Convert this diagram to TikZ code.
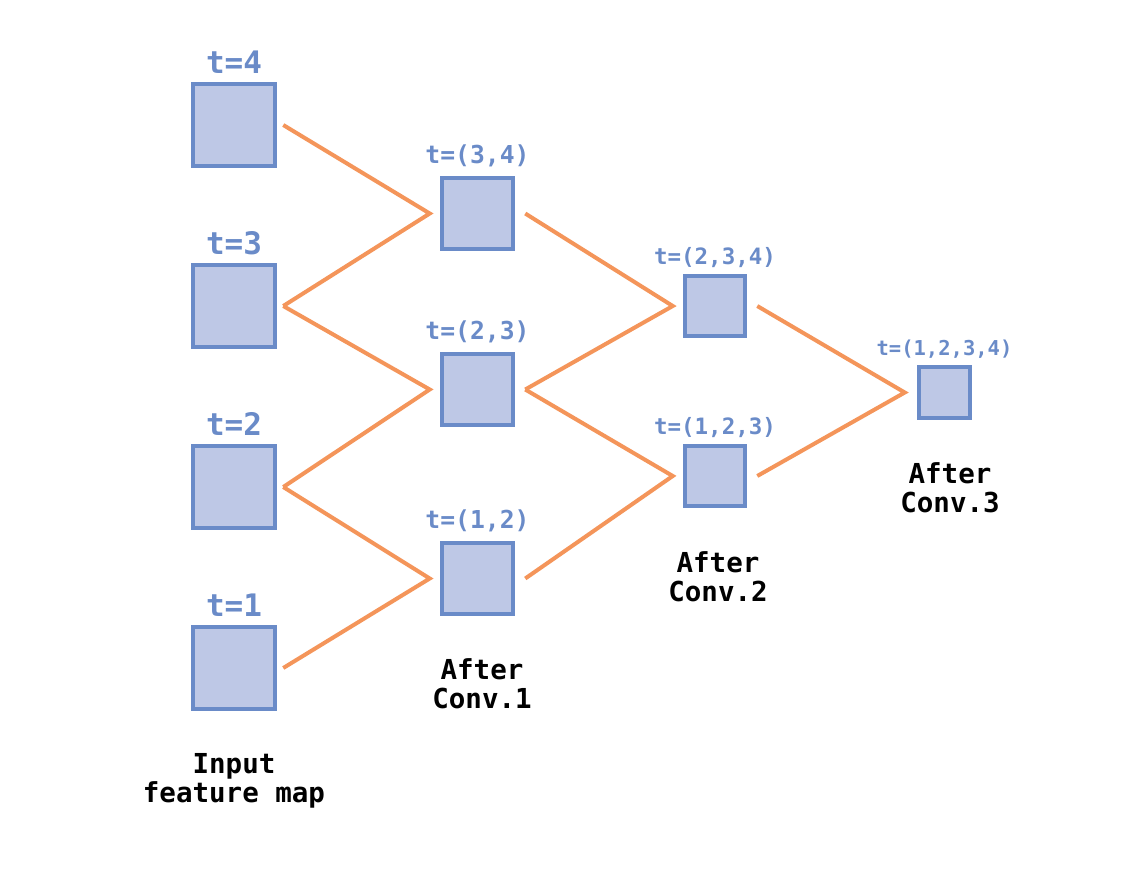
\documentclass[tikz,border=0pt]{standalone}
\usepackage{fontspec}
\setmonofont{DejaVu Sans Mono}
\usetikzlibrary{calc}
\definecolor{boxfill}{HTML}{BEC8E6}
\definecolor{boxline}{HTML}{6A8BC8}
\definecolor{connc}{HTML}{F4955A}
\begin{document}
\begin{tikzpicture}[x=1pt,y=-1pt,
  fmap/.style={draw=boxline, fill=boxfill, line width=4.5pt, inner sep=0pt},
  inbox/.style={fmap, minimum size=82pt},
  cabox/.style={fmap, minimum size=71pt},
  cbbox/.style={fmap, minimum size=60pt},
  ccbox/.style={fmap, minimum size=51pt},
  tlab/.style={text=boxline, anchor=base, inner sep=0pt},
  caption/.style={font=\ttfamily\bfseries\fontsize{27.5}{29}\selectfont, align=center, inner sep=0pt},
  conn/.style={draw=connc, line width=4pt}
]
\useasboundingbox (0,0) rectangle (1126,881);

% input boxes
\node[inbox] (i4) at (234,125) {};
\node[inbox] (i3) at (234,306) {};
\node[inbox] (i2) at (234,487) {};
\node[inbox] (i1) at (234,668) {};
% conv 1
\node[cabox] (c34) at (477.5,213.5) {};
\node[cabox] (c23) at (477.5,389.5) {};
\node[cabox] (c12) at (477.5,578.5) {};
% conv 2
\node[cbbox] (d234) at (715,306) {};
\node[cbbox] (d123) at (715,476) {};
% conv 3
\node[ccbox] (e) at (944.5,392.5) {};

% labels
\tikzset{lin/.style={tlab, font=\ttfamily\bfseries\fontsize{31}{34}\selectfont},
         la/.style={tlab, font=\ttfamily\bfseries\fontsize{24.7}{28}\selectfont},
         lb/.style={tlab, font=\ttfamily\bfseries\fontsize{22.5}{26}\selectfont},
         lc/.style={tlab, font=\ttfamily\bfseries\fontsize{20.5}{24}\selectfont}}
\node[lin] (l4) at (234,73) {t=4};
\node[lin] (l3) at (234,254) {t=3};
\node[lin] (l2) at (234,435) {t=2};
\node[lin] (l1) at (234,616) {t=1};
\node[la] (l34) at (477.5,163) {t=(3,4)};
\node[la] (l23) at (477.5,339) {t=(2,3)};
\node[la] (l12) at (477.5,528) {t=(1,2)};
\node[lb] (l234) at (715,264) {t=(2,3,4)};
\node[lb] (l123) at (715,434) {t=(1,2,3)};
\node[lc] (l1234) at (944.5,355) {t=(1,2,3,4)};

% captions
\node[caption] (capin) at (234,781) {Input\\feature map};
\node[caption] (cap1) at (482,684) {After\\Conv.1};
\node[caption] (cap2) at (718,577) {After\\Conv.2};
\node[caption] (cap3) at (950,488) {After\\Conv.3};

% vertices
\coordinate (v34) at ([xshift=-10pt]c34.west);
\coordinate (v23) at ([xshift=-10pt]c23.west);
\coordinate (v12) at ([xshift=-10pt]c12.west);
\coordinate (v234) at ([xshift=-10pt]d234.west);
\coordinate (v123) at ([xshift=-10pt]d123.west);
\coordinate (ve) at ([xshift=-12pt]e.west);

% connectors
\draw[conn] ([xshift=6pt]i4.east) -- (v34) -- ([xshift=6pt]i3.east);
\draw[conn] ([xshift=6pt]i3.east) -- (v23) -- ([xshift=6pt]i2.east);
\draw[conn] ([xshift=6pt]i2.east) -- (v12) -- ([xshift=6pt]i1.east);
\draw[conn] ([xshift=10pt]c34.east) -- (v234) -- ([xshift=10pt]c23.east);
\draw[conn] ([xshift=10pt]c23.east) -- (v123) -- ([xshift=10pt]c12.east);
\draw[conn] ([xshift=10pt]d234.east) -- (ve) -- ([xshift=10pt]d123.east);
\end{tikzpicture}
\end{document}
